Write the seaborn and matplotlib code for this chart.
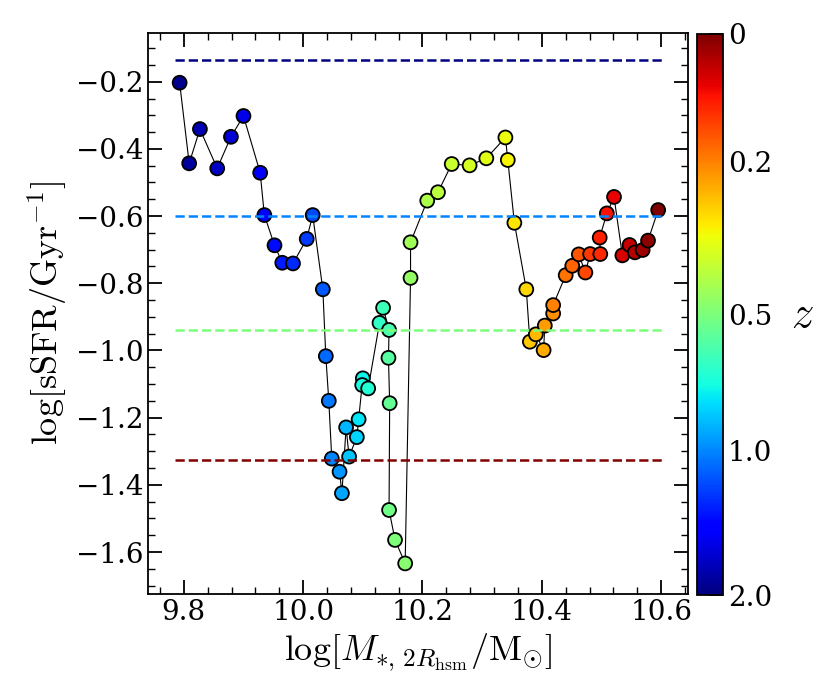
import numpy as np
import pandas as pd
import matplotlib
matplotlib.use("Agg")
import matplotlib.pyplot as plt
import seaborn as sns
from matplotlib.ticker import MultipleLocator
from matplotlib.colors import Normalize
from matplotlib.cm import ScalarMappable

# ---------------- data ----------------
log_mstar = [9.793, 9.809, 9.827, 9.856, 9.879, 9.900, 9.928, 9.935, 9.952, 9.965,
             9.983, 10.006, 10.016, 10.033, 10.038, 10.043, 10.048, 10.061, 10.065, 10.072,
             10.077, 10.090, 10.093, 10.100, 10.099, 10.109, 10.128, 10.134, 10.144, 10.143,
             10.145, 10.144, 10.154, 10.171, 10.180, 10.180, 10.208, 10.226, 10.249, 10.279,
             10.307, 10.339, 10.343, 10.354, 10.374, 10.380, 10.390, 10.403, 10.405, 10.419,
             10.419, 10.440, 10.451, 10.462, 10.473, 10.481, 10.498, 10.497, 10.509, 10.521,
             10.535, 10.547, 10.556, 10.569, 10.578, 10.595]
log_ssfr = [-0.203, -0.443, -0.341, -0.458, -0.364, -0.302, -0.471, -0.597, -0.687, -0.739,
            -0.741, -0.668, -0.597, -0.818, -1.017, -1.150, -1.322, -1.361, -1.425, -1.229,
            -1.316, -1.258, -1.205, -1.083, -1.103, -1.113, -0.918, -0.873, -0.939, -1.022,
            -1.157, -1.475, -1.564, -1.634, -0.784, -0.678, -0.554, -0.529, -0.445, -0.449,
            -0.428, -0.366, -0.433, -0.620, -0.818, -0.974, -0.952, -0.999, -0.926, -0.890,
            -0.865, -0.776, -0.748, -0.714, -0.768, -0.713, -0.713, -0.664, -0.592, -0.543,
            -0.717, -0.686, -0.708, -0.701, -0.673, -0.582]
snapshot = [34, 35, 36, 37, 38, 39, 40, 41, 42, 43, 44, 45, 46, 47, 48, 49, 50, 51, 52, 53,
            54, 55, 56, 57, 58, 59, 60, 61, 62, 63, 64, 65, 66, 67, 68, 69, 70, 71, 72, 73,
            74, 75, 76, 77, 78, 79, 80, 81, 82, 83, 84, 85, 86, 87, 88, 89, 90, 91, 92, 93,
            94, 95, 96, 97, 98, 99]

# colour scale: snapshot range and redshift tick labels
snap_range = (33, 99)
z_tick_snaps = [99, 84, 66, 50, 33]
z_tick_labels = ["0", "0.2", "0.5", "1.0", "2.0"]

# threshold lines: sSFR value and the snapshot (redshift) they belong to
thr_values = [-0.135, -0.60, -0.94, -1.325]
thr_snaps = [33, 50, 66, 99]

df = pd.DataFrame({"mass": log_mstar, "ssfr": log_ssfr, "snap": snapshot})

# ---------------- style ----------------
sns.set_style("ticks")
plt.rcParams["font.family"] = ["DejaVu Serif"]
plt.rcParams["mathtext.fontset"] = "cm"
for key in ["text.color", "axes.labelcolor", "xtick.color", "ytick.color", "axes.edgecolor"]:
    plt.rcParams[key] = "black"

fig = plt.figure(figsize=(8.3, 6.92), dpi=100)
ax = fig.add_axes([148 / 830, 98 / 692, 540 / 830, 561 / 692])
cax = fig.add_axes([697 / 830, 97 / 692, 26 / 830, 561 / 692])

cmap = matplotlib.colormaps["jet"]
norm = Normalize(vmin=snap_range[0], vmax=snap_range[1])

sns.lineplot(data=df, x="mass", y="ssfr", sort=False, estimator=None,
             color="black", linewidth=0.8, ax=ax, zorder=1)
sns.scatterplot(data=df, x="mass", y="ssfr", hue="snap", palette=cmap,
                hue_norm=norm, s=100, edgecolor="black", linewidth=1.3,
                legend=False, ax=ax, zorder=2)

for val, sn in zip(thr_values, thr_snaps):
    ax.hlines(val, min(log_mstar) - 0.008, max(log_mstar) + 0.007,
              colors=[cmap(norm(sn))], linestyles="--", linewidth=1.8, zorder=3)

ax.set_xlim(9.74, 10.645)
ax.set_ylim(-1.725, -0.055)
ax.xaxis.set_major_locator(MultipleLocator(0.2))
ax.xaxis.set_minor_locator(MultipleLocator(0.04))
ax.yaxis.set_major_locator(MultipleLocator(0.2))
ax.yaxis.set_minor_locator(MultipleLocator(0.05))
ax.tick_params(which="both", direction="in", top=True, right=True, labelsize=20,
               colors="black")
ax.tick_params(which="major", length=10, width=1.3)
ax.tick_params(which="minor", length=5, width=1.0)
for sp in ax.spines.values():
    sp.set_linewidth(1.3)
    sp.set_color("black")

ax.set_xlabel(r"$\log[M_{*,\,2R_{\rm hsm}}/{\rm M}_{\odot}]$", fontsize=26)
ax.set_ylabel(r"$\log[{\rm sSFR}/{\rm Gyr}^{-1}]$", fontsize=26)

sm = ScalarMappable(norm=norm, cmap=cmap)
cb = fig.colorbar(sm, cax=cax)
cb.set_ticks(z_tick_snaps)
cb.set_ticklabels(z_tick_labels)
cb.ax.tick_params(direction="in", length=10, width=1.2, labelsize=20, colors="black")
cb.outline.set_linewidth(1.3)
cb.outline.set_edgecolor("black")
cb.set_label(r"$z$", rotation=0, fontsize=32, labelpad=22, va="center")

fig.savefig("out.png", dpi=100)
